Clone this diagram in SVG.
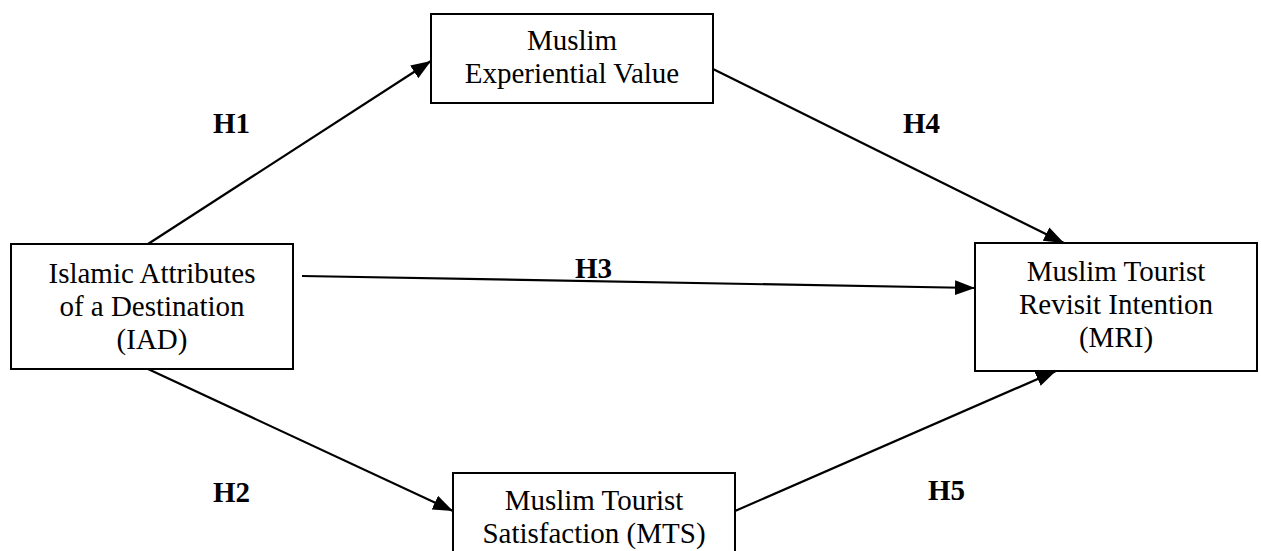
<svg xmlns="http://www.w3.org/2000/svg" width="1261" height="551" viewBox="0 0 1261 551">
<style>
.box{fill:#fff;stroke:#000;stroke-width:2}
.t{font-family:"Liberation Serif","Times New Roman",serif;font-size:29px;fill:#000;text-anchor:middle}
.h{font-family:"Liberation Serif","Times New Roman",serif;font-size:29px;font-weight:bold;fill:#000}
.c{stroke:#000;stroke-width:2.2;fill:none;marker-end:url(#ah)}
</style>
<defs>
<marker id="ah" markerUnits="userSpaceOnUse" markerWidth="22" markerHeight="16" refX="20" refY="7.5" orient="auto">
<path d="M0,0 L20,7.5 L0,15 z" fill="#000"/>
</marker>
</defs>
<rect width="1261" height="551" fill="#fff"/>
<g id="connectors">
<line class="c" x1="148" y1="244" x2="431" y2="61"/>
<line class="c" x1="713" y1="69" x2="1064" y2="243"/>
<line class="c" x1="302" y1="276" x2="975" y2="288"/>
<line class="c" x1="148" y1="369" x2="453" y2="511"/>
<line class="c" x1="735" y1="511" x2="1056" y2="371"/>
</g>
<g id="node-mev">
<rect class="box" x="431" y="14" width="282" height="89"/>
<text class="t" x="572" y="50">Muslim</text>
<text class="t" x="572" y="83">Experiential Value</text>
</g>
<g id="node-iad">
<rect class="box" x="11" y="244" width="282" height="125"/>
<text class="t" x="152" y="283">Islamic Attributes</text>
<text class="t" x="152" y="316">of a Destination</text>
<text class="t" x="152" y="349">(IAD)</text>
</g>
<g id="node-mri">
<rect class="box" x="975" y="243" width="282" height="128"/>
<text class="t" x="1116" y="281">Muslim Tourist</text>
<text class="t" x="1116" y="314">Revisit Intention</text>
<text class="t" x="1116" y="347">(MRI)</text>
</g>
<g id="node-mts">
<rect class="box" x="453" y="473" width="282" height="90"/>
<text class="t" x="594" y="510">Muslim Tourist</text>
<text class="t" x="594" y="543">Satisfaction (MTS)</text>
</g>
<g id="labels">
<text class="h" x="213" y="133">H1</text>
<text class="h" x="903" y="133">H4</text>
<text class="h" x="575" y="278">H3</text>
<text class="h" x="213" y="502">H2</text>
<text class="h" x="928" y="500">H5</text>
</g>
</svg>
